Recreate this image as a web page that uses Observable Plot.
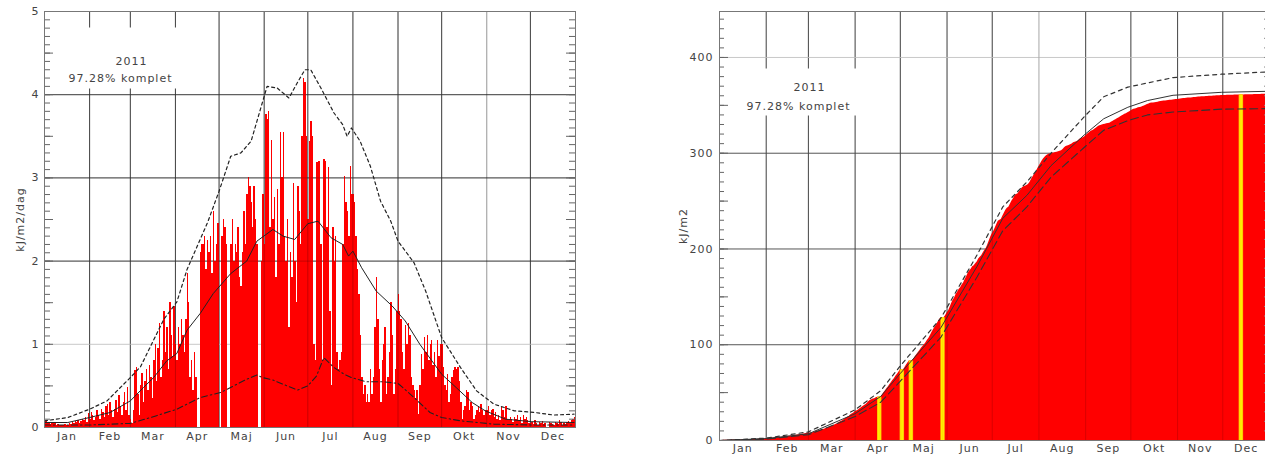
<!DOCTYPE html>
<html><head><meta charset="utf-8">
<script src="https://cdn.jsdelivr.net/npm/d3@7"></script>
<script src="https://cdn.jsdelivr.net/npm/@observablehq/plot@0.6"></script>
<style>
html,body{margin:0;padding:0;background:#fff;overflow:hidden;width:1265px;height:456px;position:relative;}
#left{position:absolute;left:0;top:0;width:640px;}
#right{position:absolute;left:660px;top:0;width:700px;}
svg{max-width:none !important;}
</style></head><body>
<div id="left"></div><div id="right"></div>
<script>
// ---------- categories / labels ----------
const monthNames = ["Jan","Feb","Mar","Apr","Maj","Jun","Jul","Aug","Sep","Okt","Nov","Dec"];
const monthDays  = [31,28,31,30,31,30,31,31,30,31,30,31];
const yearLabel = "2011";
const completeLabel = "97.28% komplet";
const leftYLabel = "kJ/m2/dag";
const rightYLabel = "kJ/m2";
const leftYTicks = [0,1,2,3,4,5];
const rightYTicks = [0,100,200,300,400];

// ---------- daily values (kJ/m2/dag), null = missing day ----------
const jan = [0.06,0.07,0.05,0.06,0.04,0.05,0.06,0.05,0.03,0.04,0.02,0.03,0.02,0.03,0.04,0.02,0.03,0.05,0.04,0.06,0.05,0.07,0.06,0.08,0.05,0.07,0.1,0.08,0.12,0.06,0.17];
const feb = [0.1,0.18,0.15,0.08,0.12,0.2,0.15,0.1,0.22,0.18,0.12,0.25,0.28,0.15,0.3,0.2,0.12,0.22,0.32,0.18,0.38,0.25,0.15,0.3,0.42,0.2,0.48,0.15];
const mar = [0.1,0.05,0.2,0.68,0.72,0.4,0.15,0.5,0.65,0.3,0.55,0.7,0.45,0.75,0.6,0.35,0.8,1.0,0.55,0.95,1.25,0.6,0.8,1.4,0.9,1.2,0.7,1.5,1.1,0.85,1.45];
const apr = [1.0,0.8,1.2,1.0,1.3,1.1,0.9,1.3,1.85,1.5,0.6,0.8,0.45,0.9,0.6,null,null,2.1,2.2,2.2,2.3,1.9,2.25,2.1,2.3,1.85,2.6,2.0,2.2,2.45];
const maj = [null,null,2.3,2.5,2.4,2.2,null,null,2.2,2.5,2.0,2.2,2.1,2.4,1.8,1.7,2.1,2.6,2.2,2.8,3.0,2.9,2.7,2.4,2.9,2.5,2.2,null,null,2.0,2.8];
const jun = [2.2,3.76,3.7,3.8,2.4,3.45,2.5,2.76,1.8,2.86,2.2,3.55,3.0,3.55,2.3,2.0,2.5,1.2,2.1,1.8,2.93,2.0,1.5,2.9,2.6,2.2,3.5,4.19,4.15,3.5];
const jul = [2.5,3.44,3.68,3.5,1.0,0.8,3.18,3.2,3.2,2.2,0.8,3.22,3.2,2.4,3.12,1.4,0.5,2.4,2.0,2.3,0.9,0.7,0.8,0.9,2.2,3.02,2.7,2.6,2.3,3.14,2.8];
const aug = [2.8,2.7,2.3,1.9,1.6,1.1,0.6,0.4,0.5,0.3,0.4,0.3,0.7,0.4,0.6,1.2,1.8,1.3,0.7,0.3,0.8,1.0,1.2,0.4,0.6,0.9,1.5,1.1,0.4,0.7,1.4];
const sep = [1.6,1.4,1.3,0.9,0.7,1.22,1.0,1.25,1.1,0.6,0.5,0.44,0.35,0.45,0.16,0.5,0.88,0.7,1.08,0.9,1.1,0.8,1.0,1.05,0.75,0.9,0.6,1.04,0.85,1.0];
const okt = [1.0,0.72,0.5,0.45,0.64,0.3,0.4,0.6,0.68,0.72,0.7,0.72,0.55,0.3,0.1,0.2,0.25,0.44,0.42,0.2,0.3,0.25,0.1,0.15,0.2,0.25,0.18,0.28,0.2,0.15,0.2];
const nov = [0.2,0.25,0.15,0.2,0.22,0.12,0.18,0.1,0.15,0.08,0.24,0.2,0.12,0.25,0.1,0.08,0.12,0.1,0.06,0.12,0.1,0.15,0.08,0.12,0.05,0.15,0.1,0.12,0.08,0.05];
const dec = [0.05,0.06,0.04,0.08,0.05,0.03,0.06,0.05,0.07,0.04,0.05,null,null,0.06,0.05,0.04,0.03,0.06,0.05,0.04,0.08,0.06,0.03,0.05,0.04,0.06,0.07,0.05,0.08,0.1,0.12];

// ---------- reference curves, daily panel: [day of year, value] ----------
const dailyHigh = [[0,0.08],[16,0.12],[31,0.22],[43,0.32],[59,0.6],[66,0.73],[82,1.3],[91,1.51],[98,1.9],[112,2.46],[120,2.84],[128,3.26],[135,3.3],[142,3.44],[148,3.8],[153,4.1],[160,4.08],[168,3.96],[174,4.15],[179,4.3],[183,4.3],[190,4.08],[199,3.78],[205,3.64],[208,3.5],[211,3.6],[217,3.44],[224,3.14],[231,2.72],[238,2.48],[243,2.24],[254,1.98],[262,1.64],[273,1.08],[286,0.72],[297,0.44],[309,0.28],[323,0.2],[337,0.18],[350,0.15],[364,0.16]];
const dailyMean = [[0,0.06],[16,0.06],[31,0.12],[45,0.18],[59,0.32],[68,0.48],[75,0.6],[84,0.8],[91,0.89],[98,1.17],[107,1.37],[116,1.61],[128,1.85],[139,2.0],[146,2.24],[157,2.38],[164,2.3],[172,2.26],[181,2.45],[188,2.48],[197,2.28],[205,2.2],[209,2.06],[212,2.12],[218,1.92],[228,1.64],[239,1.46],[248,1.28],[258,1.0],[263,0.88],[273,0.64],[283,0.48],[294,0.3],[303,0.2],[317,0.1],[335,0.07],[364,0.06]];
const dailyLow = [[0,0.03],[31,0.03],[59,0.05],[73,0.12],[91,0.22],[107,0.36],[121,0.42],[130,0.5],[139,0.58],[146,0.63],[150,0.6],[157,0.57],[164,0.52],[174,0.45],[181,0.5],[187,0.62],[192,0.84],[199,0.72],[206,0.64],[211,0.6],[221,0.55],[233,0.55],[243,0.53],[254,0.36],[265,0.18],[273,0.12],[286,0.08],[309,0.04],[337,0.03],[364,0.03]];

// ---------- reference curves, cumulative panel: [day of year, kJ/m2] ----------
const cumHigh = [[0,0],[31,2.5],[59,9],[90,32],[107,52],[120,78],[147,128],[171,194],[188,244],[204,270],[220,300],[242,338],[255,359],[271,369],[301,379],[333,382.5],[365,385]];
const cumMean = [[0,0],[31,2],[59,7],[90,28],[107,46],[120,70],[147,118],[171,182],[188,232],[204,256],[220,287],[242,319],[255,336],[271,348],[284,355],[301,360.5],[333,363.6],[365,364.7]];
const cumLow  = [[0,0],[31,1.5],[59,6],[90,25],[107,40],[120,62],[147,108],[171,171],[188,219],[204,244],[220,275],[242,306],[255,324],[271,334],[284,340],[301,343],[333,346],[365,346.6]];

// ---------- derived tables ----------
const daily = [...jan,...feb,...mar,...apr,...maj,...jun,...jul,...aug,...sep,...okt,...nov,...dec];
const dayRows = daily.map((v,i)=>({day:i, v})).filter(d=>d.v!=null);
let run = 0;
const cumRows = [{x:0,c:0}, ...daily.map((v,i)=>({x:i+1, c:(run += (v ?? 0))}))];
const missing = daily.map((v,i)=>v==null?i:null).filter(d=>d!=null);
const missRows = missing.map(i=>({x:i+0.5, c:cumRows[i+1].c}));
const monthStart = monthDays.map((d,i)=>d3.sum(monthDays.slice(0,i)));
const bounds = monthStart.slice(1);
const mids = monthStart.map((s,i)=>s+monthDays[i]/2);
const fmtMonth = d => monthNames[mids.indexOf(d)];
const fmtInt = d => String(d);

const style = {fontFamily:"'DejaVu Sans', sans-serif", fontSize:"11px", letterSpacing:"1px", color:"#444", background:"transparent", overflow:"visible", maxWidth:"none"};
const ink = "#222";

// ---------------- left panel ----------------
const LW = 620, LPW = 531;
const leftMinor = d3.range(1,50).map(i=>i/10);
const left = Plot.plot({
  width: LW, height: 456, marginLeft: 44, marginRight: 45, marginTop: 11, marginBottom: 29,
  style,
  x: {domain:[0,365]}, y: {domain:[0,5]},
  marks: [
    Plot.ruleX(bounds.filter(d=>d!==304), {stroke:"#555"}),
    Plot.ruleX([304], {stroke:"#c8c8c8"}),
    Plot.ruleY([2,3,4], {stroke:"#555"}),
    Plot.ruleY([1], {stroke:"#c8c8c8"}),
    Plot.rect(dayRows, {x1:"day", x2:d=>d.day+1, y1:0, y2:"v", fill:"#ff0000", shapeRendering:"crispEdges"}),
    Plot.ruleX(bounds, {stroke:"#000", strokeOpacity:0.22}),
    Plot.ruleY([2,3,4], {stroke:"#000", strokeOpacity:0.22}),
    Plot.frame({fill:"white", stroke:null, insetLeft:11, insetTop:16, insetRight:380, insetBottom:339}),
    Plot.line(dailyHigh, {x:d=>d[0], y:d=>d[1], stroke:ink, strokeWidth:1.2, strokeDasharray:"3,3"}),
    Plot.line(dailyMean, {x:d=>d[0], y:d=>d[1], stroke:ink, strokeWidth:1}),
    Plot.line(dailyLow, {x:d=>d[0], y:d=>d[1], stroke:ink, strokeWidth:1.1, strokeDasharray:"6,3,1.5,3"}),
    Plot.ruleY(leftMinor, {stroke:"#666", insetRight: LPW-6}),
    Plot.ruleY(leftMinor.filter(d=>Math.round(d*10)%5===0), {stroke:"#666", insetRight: LPW-9}),
    Plot.ruleY(leftMinor, {stroke:"#666", insetLeft: LPW-6}),
    Plot.ruleY(leftMinor.filter(d=>Math.round(d*10)%5===0), {stroke:"#666", insetLeft: LPW-9}),
    Plot.frame({stroke:"#777"}),
    Plot.axisY(leftYTicks, {tickSize:0, tickPadding:5, tickFormat:fmtInt, label:null}),
    Plot.axisX(mids, {tickSize:0, tickPadding:5, tickFormat:fmtMonth, label:null}),
    Plot.text([leftYLabel], {frameAnchor:"left", dx:-24, rotate:-90, textAnchor:"middle", fill:"#444"}),
    Plot.text([yearLabel], {frameAnchor:"top-left", dx:87, dy:46, textAnchor:"middle", fill:"#444"}),
    Plot.text([completeLabel], {frameAnchor:"top-left", dx:76, dy:63, textAnchor:"middle", fill:"#444"})
  ]
});
document.getElementById("left").append(left);

// ---------------- right panel ----------------
const RPW = 550;
const rightMinor = d3.range(10,450,10);
const right = Plot.plot({
  width: 619, height: 460, marginLeft: 59, marginRight: 10, marginTop: 11, marginBottom: 20,
  style,
  x: {domain:[0,365]}, y: {domain:[0,448]},
  marks: [
    Plot.ruleX(bounds.filter(d=>d!==212), {stroke:"#555"}),
    Plot.ruleX([212], {stroke:"#c8c8c8"}),
    Plot.ruleY([100,200,300], {stroke:"#555"}),
    Plot.ruleY([400], {stroke:"#c8c8c8"}),
    Plot.areaY(cumRows, {x:"x", y1:0, y2:"c", fill:"#ff0000"}),
    Plot.ruleX(bounds, {stroke:"#000", strokeOpacity:0.15}),
    Plot.ruleX(missRows, {x:"x", y1:0, y2:"c", stroke:"#ffb000", strokeWidth:3}),
    Plot.ruleX(missRows, {x:"x", y1:0, y2:"c", stroke:"#ffee00", strokeWidth:1.6}),
    Plot.frame({fill:"white", stroke:null, insetLeft:6, insetTop:57, insetRight:389, insetBottom:325}),
    Plot.line(cumHigh, {x:d=>d[0], y:d=>d[1], stroke:"#333", strokeWidth:1.2, strokeDasharray:"4,4"}),
    Plot.line(cumMean, {x:d=>d[0], y:d=>d[1], stroke:"#333", strokeWidth:1}),
    Plot.line(cumLow, {x:d=>d[0], y:d=>d[1], stroke:"#333", strokeWidth:1.1, strokeDasharray:"8,4"}),
    Plot.ruleY(rightMinor, {stroke:"#666", insetRight: RPW-5}),
    Plot.ruleY(rightMinor.filter(d=>d%50===0), {stroke:"#666", insetRight: RPW-9}),
    Plot.ruleY(rightMinor, {stroke:"#888", insetLeft: RPW-5}),
    Plot.frame({stroke:"#777"}),
    Plot.axisY(rightYTicks, {tickSize:0, tickPadding:6, tickFormat:fmtInt, label:null}),
    Plot.axisX(mids, {tickSize:0, tickPadding:4, tickFormat:fmtMonth, label:null}),
    Plot.text([rightYLabel], {frameAnchor:"left", dx:-36, rotate:-90, textAnchor:"middle", fill:"#444"}),
    Plot.text([yearLabel], {frameAnchor:"top-left", dx:90, dy:72, textAnchor:"middle", fill:"#444"}),
    Plot.text([completeLabel], {frameAnchor:"top-left", dx:79, dy:91, textAnchor:"middle", fill:"#444"})
  ]
});
document.getElementById("right").append(right);
</script>
</body></html>
